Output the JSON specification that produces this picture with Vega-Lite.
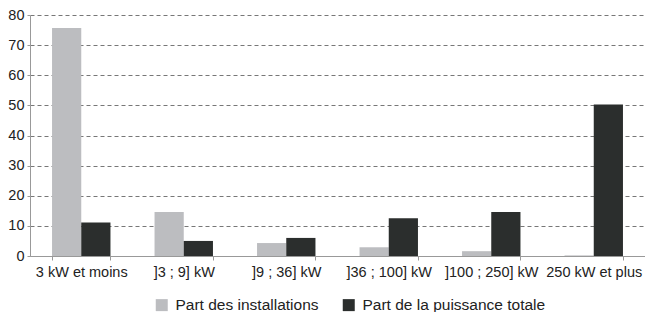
{
  "$schema": "https://vega.github.io/schema/vega-lite/v6.json",
  "width": 615,
  "height": 241,
  "autosize": "none",
  "padding": {"left": 30, "right": 0, "top": 15, "bottom": 56},
  "background": "white",
  "config": {
    "view": {"stroke": null},
    "font": "Liberation Sans",
    "axis": {"labelFont": "Liberation Sans", "labelFontSize": 14.5, "labelColor": "#222"}
  },
  "data": {
    "values": [
      {"cat": "3 kW et moins", "serie": "Part des installations", "v": 75.7},
      {"cat": "3 kW et moins", "serie": "Part de la puissance totale", "v": 11.1},
      {"cat": "]3 ; 9] kW", "serie": "Part des installations", "v": 14.6},
      {"cat": "]3 ; 9] kW", "serie": "Part de la puissance totale", "v": 5.0},
      {"cat": "]9 ; 36] kW", "serie": "Part des installations", "v": 4.3},
      {"cat": "]9 ; 36] kW", "serie": "Part de la puissance totale", "v": 6.0},
      {"cat": "]36 ; 100] kW", "serie": "Part des installations", "v": 2.9},
      {"cat": "]36 ; 100] kW", "serie": "Part de la puissance totale", "v": 12.5},
      {"cat": "]100 ; 250] kW", "serie": "Part des installations", "v": 1.6},
      {"cat": "]100 ; 250] kW", "serie": "Part de la puissance totale", "v": 14.6},
      {"cat": "250 kW et plus", "serie": "Part des installations", "v": 0.2},
      {"cat": "250 kW et plus", "serie": "Part de la puissance totale", "v": 50.3}
    ]
  },
  "mark": {"type": "bar"},
  "encoding": {
    "x": {
      "field": "cat", "type": "nominal", "sort": null, "title": null,
      "scale": {"paddingInner": 0.43, "paddingOuter": 0.215},
      "axis": {"labelAngle": 0, "tickBand": "extent", "domainColor": "#999", "tickColor": "#999", "tickSize": 4, "labelPadding": 5, "grid": false, "labelLimit": 0}
    },
    "xOffset": {"field": "serie", "type": "nominal", "sort": ["Part des installations", "Part de la puissance totale"]},
    "y": {
      "field": "v", "type": "quantitative", "title": null,
      "scale": {"domain": [0, 80], "nice": false},
      "axis": {"values": [0,10,20,30,40,50,60,70,80], "grid": true, "gridDash": [4, 3], "gridColor": "#777", "domainColor": "#999", "tickColor": "#999", "tickSize": 3, "labelPadding": 3}
    },
    "color": {
      "field": "serie", "type": "nominal", "title": null,
      "sort": ["Part des installations", "Part de la puissance totale"],
      "scale": {"range": ["#bcbdc0", "#2b2e2d"]},
      "legend": {"orient": "none", "legendX": 124, "legendY": 282, "padding": 0, "direction": "horizontal", "symbolType": "square", "symbolSize": 144, "symbolStrokeWidth": 0, "labelOffset": 6, "labelFontSize": 15.5, "labelFont": "Liberation Sans", "labelColor": "#222", "labelLimit": 0, "columnPadding": 22}
    }
  }
}
